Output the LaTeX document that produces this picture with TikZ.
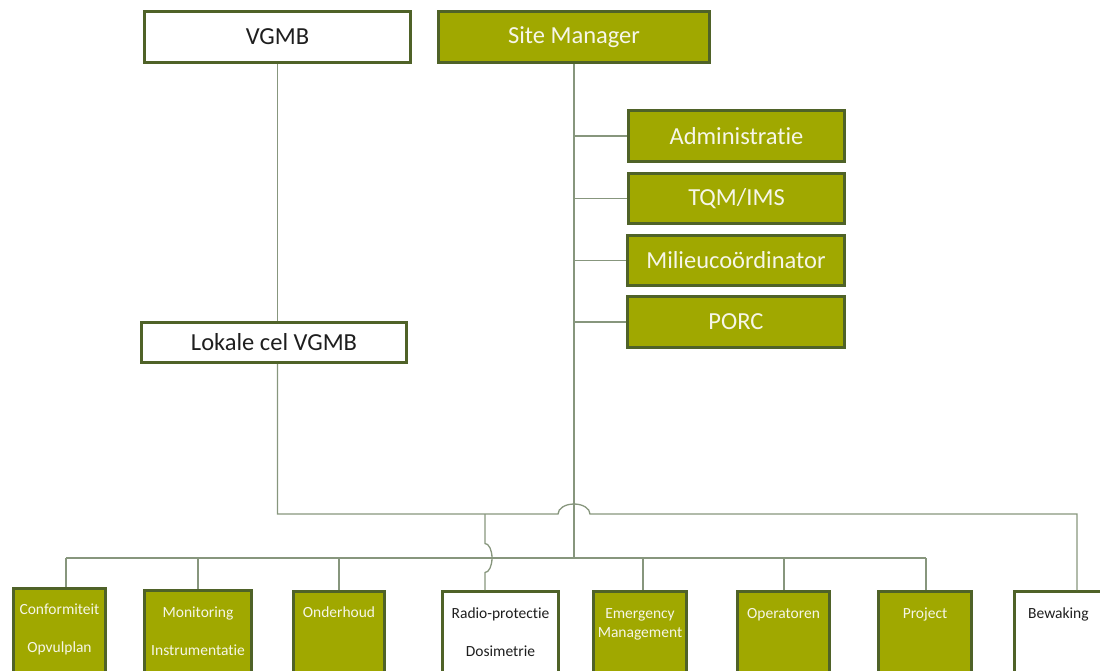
\documentclass[tikz,border=0pt]{standalone}
\usepackage{fontspec}
\setmainfont{Carlito}[Ligatures=NoCommon]
\usetikzlibrary{calc}
\definecolor{olivefill}{RGB}{160,168,0}
\definecolor{rim}{RGB}{79,98,40}
\definecolor{wire}{RGB}{135,150,125}
\definecolor{paletext}{RGB}{246,246,232}
\definecolor{darktext}{RGB}{30,30,30}
\begin{document}
\begin{tikzpicture}[x=1pt,y=-1pt,
  box/.style={draw=rim, line width=3pt, anchor=north west, inner sep=0pt},
  greenbox/.style={box, fill=olivefill, text=paletext},
  whitebox/.style={box, fill=white, text=darktext},
  bigtxt/.style={font=\fontsize{24.5}{28}\selectfont},
  sidetxt/.style={font=\fontsize{24.5}{28}\selectfont},
  lbl/.style={anchor=mid, inner sep=0pt, font=\fontsize{15.5}{18}\selectfont},
  lblg/.style={lbl, text=paletext},
  lblw/.style={lbl, text=darktext},
  conn/.style={draw=wire, line width=1.3pt}]
\useasboundingbox (0,0) rectangle (1100,670);

% top level
\node[whitebox, bigtxt, minimum width=266, minimum height=51] (vgmb) at (143,10) {VGMB};
\node[greenbox, bigtxt, minimum width=271, minimum height=51] (sm) at (437,10) {Site Manager};

% staff functions
\node[greenbox, sidetxt, minimum width=216, minimum height=51] (adm) at (627,109) {Administratie};
\node[greenbox, sidetxt, minimum width=216, minimum height=50] (tqm) at (627,172) {TQM/IMS};
\node[greenbox, sidetxt, minimum width=217, minimum height=50] (mil) at (626,234) {Milieucoördinator};
\node[greenbox, sidetxt, minimum width=217, minimum height=51] (porc) at (626,295) {PORC};

% local cell
\node[whitebox, bigtxt, minimum width=265, minimum height=40] (lok) at (140,321) {Lokale cel VGMB};

% departments
\node[greenbox, minimum width=92,  minimum height=100] (b1) at (12,587) {};
\node[greenbox, minimum width=107, minimum height=100] (b2) at (143,589) {};
\node[greenbox, minimum width=91,  minimum height=100] (b3) at (292,590) {};
\node[whitebox, minimum width=116, minimum height=100] (b4) at (441,590) {};
\node[greenbox, minimum width=93,  minimum height=100] (b5) at (592,590) {};
\node[greenbox, minimum width=92,  minimum height=100] (b6) at (736,590) {};
\node[greenbox, minimum width=93,  minimum height=100] (b7) at (877,590) {};
\node[whitebox, minimum width=120, minimum height=100] (b8) at (1013,590) {};

\node[lblg] (t1a) at ($(b1.north)+(0,25)$) {Conformiteit};
\node[lblg] (t1b) at ($(b1.north)+(0,63)$) {Opvulplan};
\node[lblg] (t2a) at ($(b2.north)+(0,26)$) {Monitoring};
\node[lblg] (t2b) at ($(b2.north)+(0,64)$) {Instrumentatie};
\node[lblg] (t3a) at ($(b3.north)+(0,25)$) {Onderhoud};
\node[lblw] (t4a) at ($(b4.north)+(0,26)$) {Radio-protectie};
\node[lblw] (t4b) at ($(b4.north)+(0,64)$) {Dosimetrie};
\node[lblg] (t5a) at ($(b5.north)+(0,26)$) {Emergency};
\node[lblg] (t5b) at ($(b5.north)+(0,45)$) {Management};
\node[lblg] (t6a) at ($(b6.north)+(0,26)$) {Operatoren};
\node[lblg] (t7a) at ($(b7.north)+(0,26)$) {Project};
\node[lblw, anchor=mid west] (t8a) at ($(b8.north west)+(15,26)$) {Bewaking};

% routing levels and drop points
\coordinate (rail) at (0,514);
\coordinate (bus) at (0,558);
\coordinate (d1) at (66,0);
\coordinate (d2) at (198,0);
\coordinate (d3) at (339,0);
\coordinate (d4) at (485,0);
\coordinate (d5) at (643,0);
\coordinate (d6) at (784,0);
\coordinate (d7) at (926,0);
\coordinate (d8) at (1077,0);

% VGMB line
\draw[conn] (vgmb.south) -- (vgmb.south |- lok.north);
\draw[conn] (vgmb.south |- lok.south) -- (vgmb.south |- rail)
  -- ($(sm.south |- rail)+(-16,0)$)
  arc[start angle=180, end angle=360, x radius=16, y radius=10]
  -- (d8 |- rail) -- (d8 |- b8.north);
\draw[conn] (d4 |- rail) -- ($(d4 |- bus)+(0,-14.5)$)
  arc[start angle=-90, end angle=90, x radius=7, y radius=14.5]
  -- (d4 |- b4.north);

% Site Manager line
\draw[conn] (sm.south) -- (sm.south |- bus);
\draw[conn] (sm.south |- adm.west) -- (adm.west);
\draw[conn] (sm.south |- tqm.west) -- (tqm.west);
\draw[conn] (sm.south |- mil.west) -- (mil.west);
\draw[conn] (sm.south |- porc.west) -- (porc.west);

% department bus
\draw[conn] (d1 |- bus) -- (d7 |- bus);
\draw[conn] (d1 |- bus) -- (d1 |- b1.north);
\draw[conn] (d2 |- bus) -- (d2 |- b2.north);
\draw[conn] (d3 |- bus) -- (d3 |- b3.north);
\draw[conn] (d5 |- bus) -- (d5 |- b5.north);
\draw[conn] (d6 |- bus) -- (d6 |- b6.north);
\draw[conn] (d7 |- bus) -- (d7 |- b7.north);
\end{tikzpicture}
\end{document}
